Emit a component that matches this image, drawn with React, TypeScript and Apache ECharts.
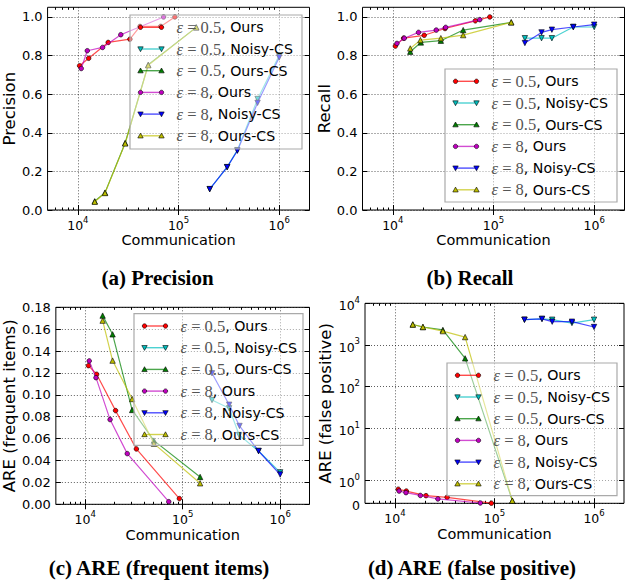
import React, { useEffect, useRef } from 'react';
import * as echarts from 'echarts';

type Pt = [number, number];

// ---------- series identity ----------
const epsLabels = ['0.5', '0.5', '0.5', '8', '8', '8'];
const methodLabels = ['Ours', 'Noisy-CS', 'Ours-CS', 'Ours', 'Noisy-CS', 'Ours-CS'];
const seriesColors = ['#ff0000', '#00bfbf', '#008000', '#bf00bf', '#0000ff', '#bfbf00'];
const seriesSymbols = ['circle', 'down', 'up', 'circle', 'down', 'up'];

// ---------- ticks ----------
const xTickValues = [1e4, 1e5, 1e6];
const xMinorTickValues = [6e3, 7e3, 8e3, 9e3, 2e4, 3e4, 4e4, 5e4, 6e4, 7e4, 8e4, 9e4, 2e5, 3e5, 4e5, 5e5, 6e5, 7e5, 8e5, 9e5];
const precisionTicks = [0, 0.2, 0.4, 0.6, 0.8, 1.0];
const recallTicks = [0, 0.2, 0.4, 0.6, 0.8, 1.0];
const areFreqTicks = [0, 0.02, 0.04, 0.06, 0.08, 0.1, 0.12, 0.14, 0.16, 0.18];
const areFpTicks = [0, 1, 10, 100, 1000, 10000];

// ---------- (a) Precision ----------
const precOurs05: Pt[] = [[1.04e4, 0.747], [1.28e4, 0.786], [2.0e4, 0.868], [3.29e4, 0.885], [4.14e4, 0.951], [6.64e4, 0.951], [9.2e4, 1.0]];
const precNoisy05: Pt[] = [[2.04e5, 0.108], [3.04e5, 0.222], [3.84e5, 0.31], [6.1e5, 0.575], [1e6, 0.8]];
const precOursCS05: Pt[] = [[1.47e4, 0.045], [1.86e4, 0.09], [2.95e4, 0.347], [5.0e4, 0.752], [1.5e5, 0.946]];
const precOurs8: Pt[] = [[1.08e4, 0.733], [1.24e4, 0.825], [1.76e4, 0.842], [2.67e4, 0.908], [7.1e4, 1.0]];
const precNoisy8: Pt[] = [[2.04e5, 0.108], [3.04e5, 0.222], [3.84e5, 0.307], [6.1e5, 0.555], [1e6, 0.79]];
const precOursCS8: Pt[] = [[1.47e4, 0.043], [1.86e4, 0.088], [2.95e4, 0.345], [5.0e4, 0.75], [1.5e5, 0.946]];

// ---------- (b) Recall ----------
const recOurs05: Pt[] = [[1.06e4, 0.849], [1.28e4, 0.89], [2.05e4, 0.905], [3.3e4, 0.94], [6.6e4, 0.98], [9.2e4, 1.0]];
const recNoisy05: Pt[] = [[2.05e5, 0.89], [3.0e5, 0.89], [3.8e5, 0.89], [6.2e5, 0.948], [1e6, 0.948]];
const recOursCS05: Pt[] = [[1.49e4, 0.82], [1.9e4, 0.868], [3.0e4, 0.877], [5.0e4, 0.932], [1.5e5, 0.972]];
const recOurs8: Pt[] = [[1.1e4, 0.863], [1.3e4, 0.89], [1.8e4, 0.92], [2.7e4, 0.932], [3.35e4, 0.946], [7.3e4, 0.986]];
const recNoisy8: Pt[] = [[2.05e5, 0.865], [3.0e5, 0.92], [3.8e5, 0.934], [6.2e5, 0.948], [1e6, 0.96]];
const recOursCS8: Pt[] = [[1.49e4, 0.837], [1.88e4, 0.88], [3.0e4, 0.89], [5.0e4, 0.906], [1.5e5, 0.972]];

// ---------- (c) ARE (frequent items) ----------
const freqOurs05: Pt[] = [[1.08e4, 0.1267], [1.31e4, 0.1188], [2.05e4, 0.0856], [3.35e4, 0.0506], [9.25e4, 0.0052]];
const freqNoisy05: Pt[] = [[2.0e5, 0.0953], [3.0e5, 0.0877], [3.8e5, 0.0633], [6.0e5, 0.0487], [1e6, 0.0292]];
const freqOursCS05: Pt[] = [[1.51e4, 0.1724], [1.91e4, 0.1553], [3.03e4, 0.0862], [5.07e4, 0.0582], [1.51e5, 0.025]];
const freqOurs8: Pt[] = [[1.1e4, 0.131], [1.29e4, 0.1157], [1.8e4, 0.0774], [2.7e4, 0.0463], [7.2e4, 0.0024]];
const freqNoisy8: Pt[] = [[2.0e5, 0.1197], [3.0e5, 0.091], [3.83e5, 0.0716], [6.0e5, 0.0487], [1e6, 0.0272]];
const freqOursCS8: Pt[] = [[1.51e4, 0.1678], [1.91e4, 0.1313], [3.03e4, 0.0962], [5.07e4, 0.0554], [1.51e5, 0.0192]];

// ---------- (d) ARE (false positive) ----------
const fpOurs05: Pt[] = [[1.08e4, 0.61], [1.3e4, 0.53], [2.05e4, 0.33], [3.34e4, 0.26], [9.3e4, 0.005]];
const fpNoisy05: Pt[] = [[2.0e5, 4030], [3.0e5, 4210], [3.8e5, 4030], [6.0e5, 3350], [1e6, 4030]];
const fpOursCS05: Pt[] = [[1.51e4, 3090], [1.91e4, 2690], [3.03e4, 2290], [5.07e4, 474], [1.51e5, 0.115]];
const fpOurs8: Pt[] = [[1.1e4, 0.53], [1.29e4, 0.46], [1.8e4, 0.34], [2.7e4, 0.19], [7.2e4, 0.014]];
const fpNoisy8: Pt[] = [[2.0e5, 4030], [3.0e5, 4210], [3.8e5, 3610], [6.0e5, 3610], [1e6, 2690]];
const fpOursCS8: Pt[] = [[1.51e4, 3090], [1.91e4, 2690], [3.03e4, 2140], [5.07e4, 1540], [1.51e5, 0.115]];

// symlog (linthresh 2, linscale 1) used by panel (d)
const LINTHRESH = 2;
const LINSCALE_ADJ = 1 / (1 - 1 / 10);
const symlog = (y: number) => (y <= LINTHRESH ? (y / LINTHRESH) * LINSCALE_ADJ : LINSCALE_ADJ + Math.log10(y / LINTHRESH));

const SANS = 'DejaVu Sans';
const SERIF = 'Liberation Serif';

const supRich = {
  b: { fontFamily: SANS, fontSize: 12.5, color: '#000', lineHeight: 18, verticalAlign: 'bottom' },
  s: { fontFamily: SANS, fontSize: 8.5, color: '#000', lineHeight: 18, verticalAlign: 'top', padding: [1, 0, 0, 0] },
};
const powLabel = (v: number) => `{b|10}{s|${Math.round(Math.log10(v))}}`;

interface Panel {
  grid: { left: number; top: number; width: number; height: number };
  yName: string;
  yNameGap: number;
  yMax: number;
  yTicks: number[];
  yFmt: (v: number) => string;
  yMap: (v: number) => number;
  data: Pt[][];
  legend: { x: number; y: number; w: number; h: number };
  caption: string;
  capX: number;
  capY: number;
}

const ident = (v: number) => v;

const panels: Panel[] = [
  {
    grid: { left: 47.5, top: 7.3, width: 262, height: 202.7 },
    yName: 'Precision', yNameGap: 21, yMax: 1.05, yTicks: precisionTicks,
    yFmt: (v) => v.toFixed(1), yMap: ident,
    data: [precOurs05, precNoisy05, precOursCS05, precOurs8, precNoisy8, precOursCS8],
    legend: { x: 130, y: 15, w: 172, h: 134 },
    caption: '(a) Precision', capX: 157.5, capY: 278,
  },
  {
    grid: { left: 362.5, top: 7.3, width: 262, height: 202.7 },
    yName: 'Recall', yNameGap: 21, yMax: 1.05, yTicks: recallTicks,
    yFmt: (v) => v.toFixed(1), yMap: ident,
    data: [recOurs05, recNoisy05, recOursCS05, recOurs8, recNoisy8, recOursCS8],
    legend: { x: 445, y: 69, w: 172, h: 133 },
    caption: '(b) Recall', capX: 470, capY: 278,
  },
  {
    grid: { left: 53.8, top: 307.3, width: 255.7, height: 197 },
    yName: 'ARE (frequent items)', yNameGap: 27, yMax: 0.18, yTicks: areFreqTicks,
    yFmt: (v) => v.toFixed(2), yMap: ident,
    data: [freqOurs05, freqNoisy05, freqOursCS05, freqOurs8, freqNoisy8, freqOursCS8],
    legend: { x: 134, y: 313.7, w: 169, h: 131.6 },
    caption: '(c) ARE (frequent items)', capX: 159, capY: 568,
  },
  {
    grid: { left: 365, top: 303.3, width: 259, height: 200 },
    yName: 'ARE (false positive)', yNameGap: 31, yMax: symlog(1e4), yTicks: areFpTicks.map(symlog),
    yFmt: (v) => {
      let idx = 0;
      areFpTicks.forEach((t, i) => { if (Math.abs(symlog(t) - v) < Math.abs(symlog(areFpTicks[idx]) - v)) idx = i; });
      const t = areFpTicks[idx];
      return t === 0 ? '{b|0}' : powLabel(t);
    },
    yMap: symlog,
    data: [fpOurs05, fpNoisy05, fpOursCS05, fpOurs8, fpNoisy8, fpOursCS8],
    legend: { x: 447, y: 363, w: 170, h: 132.7 },
    caption: '(d) ARE (false positive)', capX: 472, capY: 568,
  },
];

function markerGraphic(kind: string, cx: number, cy: number, color: string) {
  const style = { fill: color, stroke: '#000', lineWidth: 0.6 };
  if (kind === 'circle') return { type: 'circle', shape: { cx, cy, r: 2.2 }, style, z: 101 };
  const s = 2.7;
  const pts = kind === 'up'
    ? [[cx, cy - s], [cx - s, cy + s * 0.8], [cx + s, cy + s * 0.8]]
    : [[cx, cy + s], [cx - s, cy - s * 0.8], [cx + s, cy - s * 0.8]];
  return { type: 'polygon', shape: { points: pts }, style, z: 101 };
}

function buildOption() {
  const grid: any[] = [];
  const xAxis: any[] = [];
  const yAxis: any[] = [];
  const series: any[] = [];
  const graphic: any[] = [];

  panels.forEach((p, pi) => {
    grid.push({ ...p.grid, show: true, borderColor: '#000', borderWidth: 1, backgroundColor: 'transparent', containLabel: false });
    const xBase = {
      type: 'log', logBase: 10, min: 5000, max: 2e6, gridIndex: pi,
      axisLine: { show: false },
      splitLine: { show: false },
      axisLabel: { show: false },
    };
    xAxis.push({
      ...xBase, position: 'bottom',
      name: 'Communication', nameLocation: 'middle', nameGap: 17,
      nameTextStyle: { fontFamily: SANS, fontSize: 14.5, color: '#000' },
      axisTick: { show: true, inside: true, length: 5, customValues: xTickValues, lineStyle: { color: '#000', width: 1 } },
      axisLabel: { show: true, margin: 4, customValues: xTickValues, formatter: (v: number) => powLabel(v), rich: supRich },
      splitLine: { show: true, lineStyle: { color: '#000', width: 0.8, type: [1, 2], opacity: 0.8 } },
    });
    xAxis.push({ ...xBase, position: 'top', axisTick: { show: true, inside: true, length: 5, customValues: xTickValues, lineStyle: { color: '#000' } } });
    xAxis.push({ ...xBase, position: 'bottom', axisTick: { show: true, inside: true, length: 2.5, customValues: xMinorTickValues, lineStyle: { color: '#000' } } });
    xAxis.push({ ...xBase, position: 'top', axisTick: { show: true, inside: true, length: 2.5, customValues: xMinorTickValues, lineStyle: { color: '#000' } } });

    yAxis.push({
      type: 'value', min: 0, max: p.yMax, gridIndex: pi, position: 'left',
      name: p.yName, nameLocation: 'middle', nameGap: p.yNameGap, nameRotate: 90,
      nameTextStyle: { fontFamily: SANS, fontSize: 16.5, color: '#000' },
      axisLine: { show: false },
      axisTick: { show: true, inside: true, length: 5, customValues: p.yTicks, lineStyle: { color: '#000' } },
      axisLabel: {
        show: true, margin: 5, customValues: p.yTicks, fontFamily: SANS, fontSize: 13, color: '#000',
        formatter: (v: number) => p.yFmt(v), rich: supRich,
      },
      splitLine: { show: true, lineStyle: { color: '#000', width: 0.8, type: [1, 2], opacity: 0.8 } },
    });
    yAxis.push({
      type: 'value', min: 0, max: p.yMax, gridIndex: pi, position: 'right',
      axisLine: { show: false }, axisLabel: { show: false }, splitLine: { show: false },
      axisTick: { show: true, inside: true, length: 5, customValues: p.yTicks, lineStyle: { color: '#000' } },
    });

    p.data.forEach((arr, si) => {
      const kind = seriesSymbols[si];
      series.push({
        type: 'line',
        name: `ε = ${epsLabels[si]}, ${methodLabels[si]}`,
        xAxisIndex: pi * 4, yAxisIndex: pi * 2,
        data: arr.map(([x, y]) => [x, p.yMap(y)]),
        symbol: kind === 'circle' ? 'circle' : 'triangle',
        symbolRotate: kind === 'down' ? 180 : 0,
        symbolSize: kind === 'circle' ? 4.6 : 5.4,
        showSymbol: true,
        lineStyle: { color: seriesColors[si], width: 1.2, opacity: 0.7 },
        itemStyle: { color: seriesColors[si], borderColor: '#000', borderWidth: 0.6 },
        z: 2 + si,
        silent: true,
      });
    });

    const L = p.legend;
    graphic.push({
      type: 'rect', shape: { x: L.x, y: L.y, width: L.w, height: L.h },
      style: { fill: 'rgba(255,255,255,0.45)', stroke: '#aaaaaa', lineWidth: 1.2 }, z: 100,
    });
    for (let i = 0; i < 6; i++) {
      const cy = L.y + 12.3 + i * 21.7;
      const x1 = L.x + 10.5;
      const x2 = L.x + 31.5;
      graphic.push({ type: 'line', shape: { x1, y1: cy, x2, y2: cy }, style: { stroke: seriesColors[i], lineWidth: 1.4, opacity: 0.7 }, z: 101 });
      graphic.push(markerGraphic(seriesSymbols[i], x1, cy, seriesColors[i]));
      graphic.push(markerGraphic(seriesSymbols[i], x2, cy, seriesColors[i]));
      graphic.push({
        type: 'text', x: L.x + 46.5, y: cy, z: 101,
        style: {
          text: `{e|ε}{m| = ${epsLabels[i]}}{t|, ${methodLabels[i]}}`,
          verticalAlign: 'middle',
          rich: {
            e: { fontFamily: SERIF, fontStyle: 'italic', fontSize: 16.5, fill: '#555' },
            m: { fontFamily: SERIF, fontSize: 16.5, fill: '#555' },
            t: { fontFamily: SANS, fontSize: 14.2, fill: '#000' },
          },
        },
      });
    }
    graphic.push({
      type: 'text', x: p.capX, y: p.capY, z: 101,
      style: { text: p.caption, fontFamily: SERIF, fontWeight: 'bold', fontSize: 21, fill: '#000', align: 'center', verticalAlign: 'middle' },
    });
  });

  return { animation: false, backgroundColor: '#fff', grid, xAxis, yAxis, series, graphic };
}

export default function App() {
  const ref = useRef<HTMLDivElement>(null);
  useEffect(() => {
    if (!ref.current) return;
    const chart = echarts.init(ref.current, undefined, { renderer: 'svg' });
    chart.setOption(buildOption() as any);
    return () => chart.dispose();
  }, []);
  return <div ref={ref} style={{ position: 'fixed', left: 0, top: 0, width: 625, height: 581, background: '#fff' }} />;
}
